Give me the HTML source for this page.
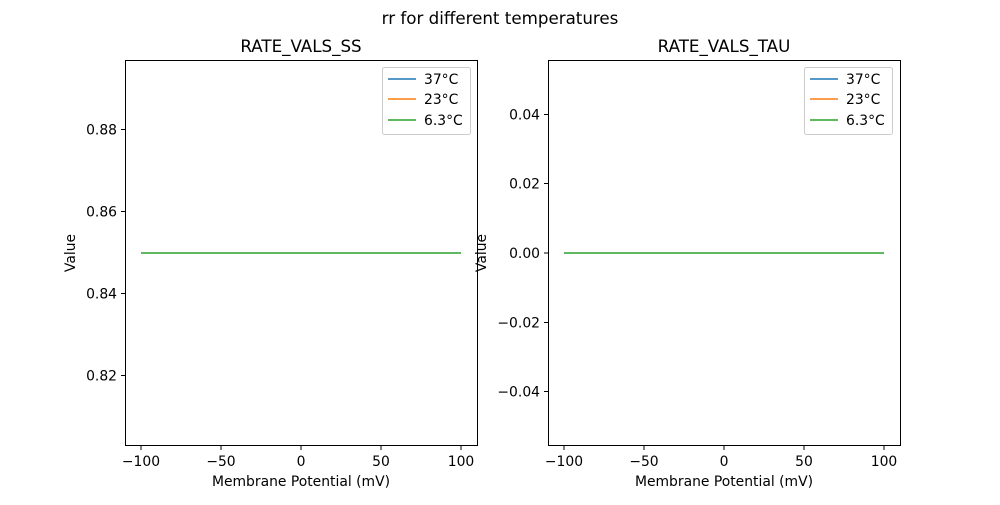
<!DOCTYPE html>
<html><head><meta charset="utf-8"><style>body{margin:0;background:#fff}</style></head><body>
<svg width="1000" height="500" xmlns="http://www.w3.org/2000/svg" font-family="DejaVu Sans, Liberation Sans, sans-serif" font-size="13.9">
<rect width="1000" height="500" fill="#fff"/>
<text x="500" y="24" text-anchor="middle" font-size="16.7">rr for different temperatures</text>
<!-- left -->
<g>
<text x="301" y="52" text-anchor="middle" font-size="16.7">RATE_VALS_SS</text>
<line x1="141" y1="253" x2="461" y2="253" stroke="#2ca02c" stroke-width="1.5"/>
<rect x="125.5" y="60.5" width="352" height="385" fill="none" stroke="#000" stroke-width="1"/>
<g stroke="#000"><line x1="121" x2="125" y1="129.5" y2="129.5"/><line x1="121" x2="125" y1="211.5" y2="211.5"/><line x1="121" x2="125" y1="293.5" y2="293.5"/><line x1="121" x2="125" y1="375.5" y2="375.5"/>
<line x1="141" x2="141" y1="446" y2="450"/><line x1="221" x2="221" y1="446" y2="450"/><line x1="301" x2="301" y1="446" y2="450"/><line x1="381" x2="381" y1="446" y2="450"/><line x1="461" x2="461" y1="446" y2="450"/></g>
<g text-anchor="end"><text x="117" y="134.5">0.88</text><text x="117" y="216.5">0.86</text><text x="117" y="298.5">0.84</text><text x="117" y="380.5">0.82</text></g>
<g text-anchor="middle"><text x="141" y="466">−100</text><text x="221" y="466">−50</text><text x="301" y="466">0</text><text x="381" y="466">50</text><text x="461" y="466">100</text>
<text x="301" y="486">Membrane Potential (mV)</text>
<text transform="translate(75,253) rotate(-90)">Value</text></g>
<rect x="382.5" y="67.5" width="88" height="67" fill="#fff" stroke="#ccc" rx="2"/>
<line x1="388" x2="416" y1="79" y2="79" stroke="#1f77b4" stroke-width="1.5"/><text x="424" y="84">37°C</text>
<line x1="388" x2="416" y1="99" y2="99" stroke="#ff7f0e" stroke-width="1.5"/><text x="424" y="104">23°C</text>
<line x1="388" x2="416" y1="120" y2="120" stroke="#2ca02c" stroke-width="1.5"/><text x="424" y="125">6.3°C</text>
</g>
<!-- right -->
<g>
<text x="724" y="52" text-anchor="middle" font-size="16.7">RATE_VALS_TAU</text>
<line x1="564" y1="253" x2="884" y2="253" stroke="#2ca02c" stroke-width="1.5"/>
<rect x="548.5" y="60.5" width="352" height="385" fill="none" stroke="#000" stroke-width="1"/>
<g stroke="#000"><line x1="544" x2="548" y1="114.5" y2="114.5"/><line x1="544" x2="548" y1="183.5" y2="183.5"/><line x1="544" x2="548" y1="253" y2="253"/><line x1="544" x2="548" y1="322.5" y2="322.5"/><line x1="544" x2="548" y1="391.5" y2="391.5"/>
<line x1="564" x2="564" y1="446" y2="450"/><line x1="644" x2="644" y1="446" y2="450"/><line x1="724" x2="724" y1="446" y2="450"/><line x1="804" x2="804" y1="446" y2="450"/><line x1="884" x2="884" y1="446" y2="450"/></g>
<g text-anchor="end"><text x="540" y="119.5">0.04</text><text x="540" y="188.5">0.02</text><text x="540" y="258">0.00</text><text x="540" y="327.5">−0.02</text><text x="540" y="396.5">−0.04</text></g>
<g text-anchor="middle"><text x="564" y="466">−100</text><text x="644" y="466">−50</text><text x="724" y="466">0</text><text x="804" y="466">50</text><text x="884" y="466">100</text>
<text x="724" y="486">Membrane Potential (mV)</text>
<text transform="translate(486,253) rotate(-90)">Value</text></g>
<rect x="804.5" y="67.5" width="88" height="67" fill="#fff" stroke="#ccc" rx="2"/>
<line x1="810" x2="838" y1="79" y2="79" stroke="#1f77b4" stroke-width="1.5"/><text x="846" y="84">37°C</text>
<line x1="810" x2="838" y1="99" y2="99" stroke="#ff7f0e" stroke-width="1.5"/><text x="846" y="104">23°C</text>
<line x1="810" x2="838" y1="120" y2="120" stroke="#2ca02c" stroke-width="1.5"/><text x="846" y="125">6.3°C</text>
</g>
</svg>
</body></html>
